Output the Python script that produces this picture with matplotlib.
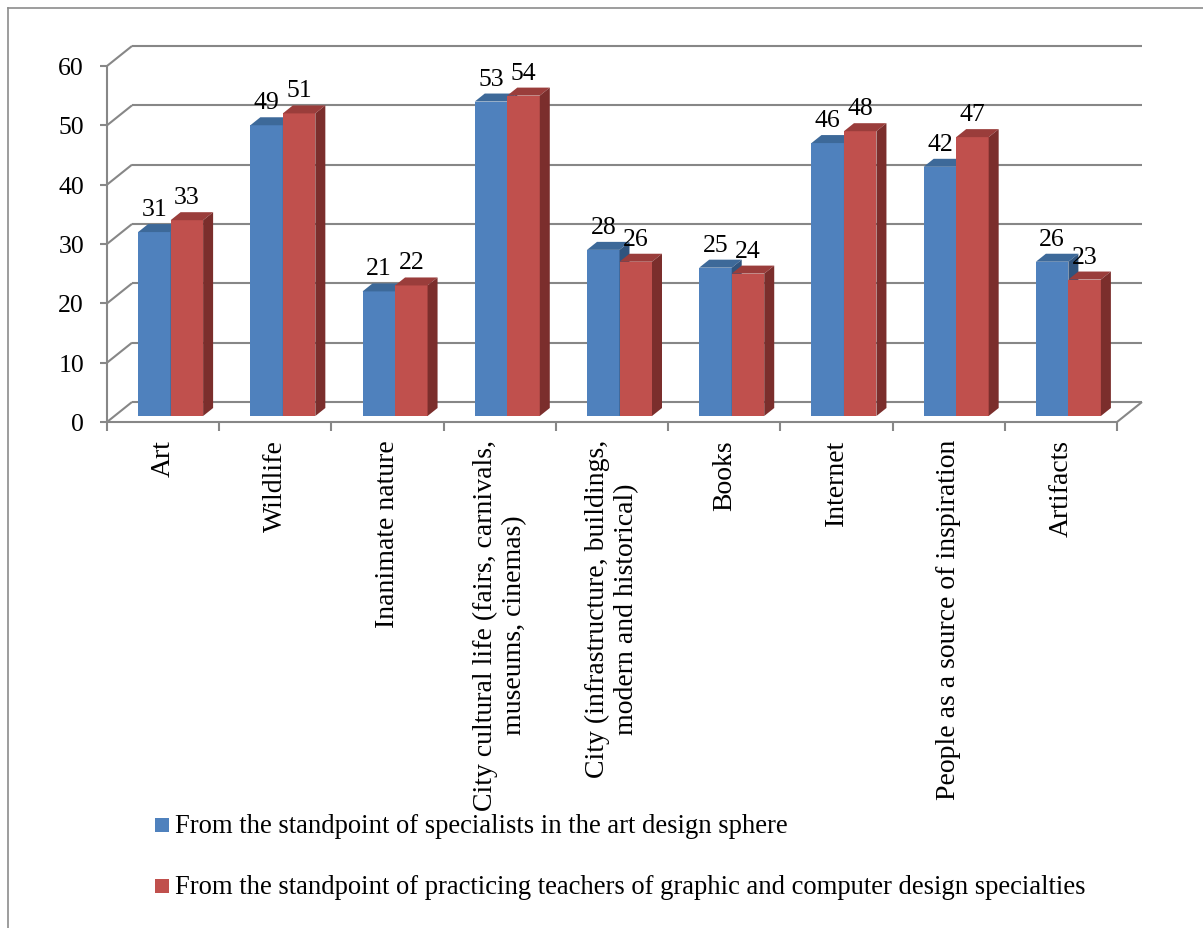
import matplotlib
matplotlib.use("Agg")
import matplotlib.pyplot as plt
from matplotlib.patches import Polygon, Rectangle
from matplotlib.lines import Line2D

plt.rcParams["font.family"] = ["Liberation Serif", "DejaVu Serif"]
plt.rcParams["font.size"] = 18.5

categories = [
    "Art",
    "Wildlife",
    "Inanimate nature",
    "City cultural life (fairs, carnivals,\nmuseums, cinemas)",
    "City (infrastructure, buildings,\nmodern and historical)",
    "Books",
    "Internet",
    "People as a source of inspiration",
    "Artifacts",
]
specialists = [31, 49, 21, 53, 28, 25, 46, 42, 26]
teachers = [33, 51, 22, 54, 26, 24, 48, 47, 23]
series_names = [
    "From the standpoint of specialists in the art design sphere",
    "From the standpoint of practicing teachers of graphic and computer design specialties",
]
y_ticks = [0, 10, 20, 30, 40, 50, 60]

# colours: front, top, side
BLUE = ("#4F81BD", "#3D6999", "#30547E")
RED = ("#C0504D", "#9A3D3B", "#7B2E2C")
GRID = "#878787"

W, H = 1203, 929
fig = plt.figure(figsize=(W / 100, H / 100), dpi=100)

# front plane of the 3D box, in pixels from top-left
AX_L, AX_R, AX_T, AX_B = 107, 1117, 67, 423
ax = fig.add_axes([AX_L / W, 1 - AX_B / H, (AX_R - AX_L) / W, (AX_B - AX_T) / H])
n = len(categories)
ax.set_xlim(-0.5, n - 0.5)
ax.set_ylim(0, y_ticks[-1])
ax.axis("off")

ux = (AX_R - AX_L) / n            # pixels per category
uy = (AX_B - AX_T) / y_ticks[-1]  # pixels per value unit


def px(dx, dy):
    """pixel offset -> data offset"""
    return dx / ux, dy / uy


bx, by = px(25, 20)    # back wall depth
ox, oy = px(7.5, 6)    # bar position inside the box
dx, dy = px(10, 8)     # bar depth
bw = 32.5 / ux         # bar width
tx, ty = px(7, 9)      # tick lengths

line_kw = dict(color=GRID, lw=1.5, clip_on=False, zorder=1, solid_capstyle="butt")

# walls and gridlines
for t in y_ticks:
    ax.plot([-0.5 + bx, n - 0.5 + bx], [t + by, t + by], **line_kw)
    ax.plot([-0.5, -0.5 + bx], [t, t + by], **line_kw)
    ax.plot([-0.5 - tx, -0.5], [t, t], **line_kw)
    ax.annotate(str(t), (-0.5 - tx, t), xytext=(-16, -2), textcoords="offset pixels",
                ha="right", va="center", annotation_clip=False)
ax.plot([-0.5, -0.5], [0, y_ticks[-1]], **line_kw)
ax.plot([-0.5, n - 0.5, n - 0.5 + bx], [0, 0, by], **line_kw)
for k in range(n + 1):
    ax.plot([k - 0.5, k - 0.5], [0, -ty], **line_kw)

# bars
for j, (vals, cols) in enumerate([(specialists, BLUE), (teachers, RED)]):
    xs = [i - bw + j * bw + ox for i in range(n)]
    z = 3 + 2 * j
    ax.bar(xs, vals, width=bw, bottom=oy, align="edge", color=cols[0],
           zorder=z, clip_on=False, label=series_names[j])
    for x0, v in zip(xs, vals):
        top = v + oy
        ax.add_patch(Polygon([(x0, top), (x0 + bw, top), (x0 + bw + dx, top + dy),
                              (x0 + dx, top + dy)], closed=True, fc=cols[1], ec="none",
                             zorder=z + 1, clip_on=False))
        ax.add_patch(Polygon([(x0 + bw, oy), (x0 + bw + dx, oy + dy), (x0 + bw + dx, top + dy),
                              (x0 + bw, top)], closed=True, fc=cols[2], ec="none",
                             zorder=z + 1, clip_on=False))
        ax.annotate(str(v), (x0 + bw / 2, top + dy), xytext=(0, 9), textcoords="offset pixels",
                    ha="center", va="baseline", zorder=10, annotation_clip=False)

# category labels
for i, lab in enumerate(categories):
    ax.annotate(lab, (i, 0), xytext=(0, -17), textcoords="offset pixels", rotation=90,
                ha="center", va="top", multialignment="center", fontsize=20,
                annotation_clip=False)

# legend
for j, (name, cols) in enumerate(zip(series_names, [BLUE, RED])):
    base = 833 + j * 61
    fig.add_artist(Rectangle((155 / W, 1 - base / H), 14 / W, 14 / H, transform=fig.transFigure,
                             fc=cols[0], ec="none"))
    fig.text(175 / W, 1 - base / H, name, ha="left", va="baseline", fontsize=19.2)

# outer frame
fig.add_artist(Line2D([8 / W, 8 / W], [0, 1 - 9 / H], color="#8C8C8C", lw=1.2,
                      transform=fig.transFigure))
fig.add_artist(Line2D([8 / W, 1], [1 - 9 / H, 1 - 9 / H], color="#8C8C8C", lw=1.2,
                      transform=fig.transFigure))

fig.savefig("out.png", dpi=100, facecolor="white")
